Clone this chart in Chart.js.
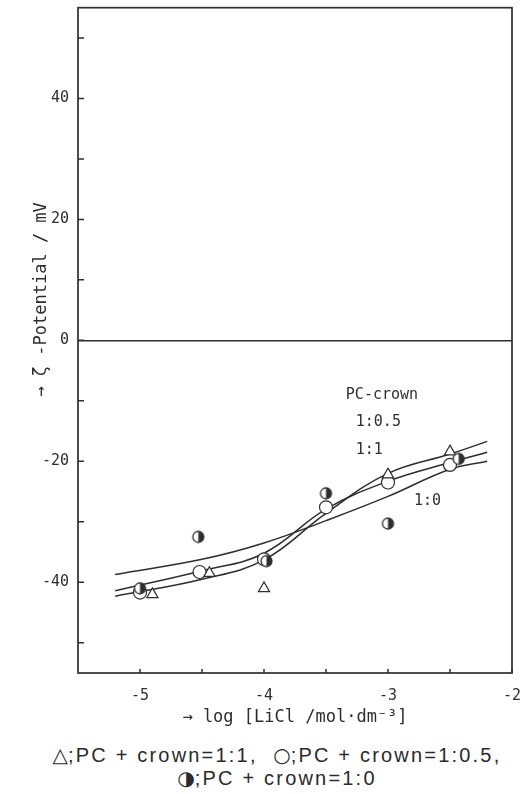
<!DOCTYPE html>
<html>
<head>
<meta charset="utf-8">
<script src="https://cdn.jsdelivr.net/npm/chart.js@4.4.1/dist/chart.umd.min.js"></script>
<style>
  body { margin: 0; background: #fff; }
  #wrap { position: relative; width: 524px; height: 740px; }
  #caption {
    width: 524px;
    box-sizing: border-box;
    padding-left: 30px;
    font-family: "Liberation Sans", Arial, sans-serif;
    font-size: 20px;
    letter-spacing: 2.2px;
    line-height: 23px;
    color: #2a2a2a;
    text-align: center;
    margin-top: 4px;
  }
  #caption .sym { font-family: "DejaVu Sans", sans-serif; letter-spacing: 0; }
</style>
</head>
<body>
<div id="wrap"><canvas id="zeta"></canvas></div>
<div id="caption"><span class="sym">△</span>;PC + crown=1:1,&nbsp;&nbsp;<span class="sym">○</span>;PC + crown=1:0.5,<br><span class="sym">◑</span>;PC + crown=1:0</div>
<script>
// measured points, log[LiCl] vs zeta potential (mV)
const logC_11 = [-4.9, -4.44, -4.0, -3.0, -2.5];
const zeta_11 = [-42.0, -38.5, -41.0, -22.2, -18.4];
const logC_05 = [-5.0, -4.52, -4.0, -3.5, -3.0, -2.5];
const zeta_05 = [-41.7, -38.3, -36.2, -27.6, -23.5, -20.6];
const logC_10 = [-5.0, -4.53, -3.98, -3.5, -3.0, -2.43];
const zeta_10 = [-41.0, -32.5, -36.5, -25.3, -30.3, -19.6];

// hand drawn fit curves
const fitX_11 = [-5.2, -4.5, -4.0, -3.5, -3.0, -2.5, -2.2];
const fitY_11 = [-42.3, -39.5, -36.3, -28.6, -22.0, -18.8, -16.7];
const fitX_05 = [-5.2, -4.5, -4.0, -3.5, -3.0, -2.5, -2.2];
const fitY_05 = [-41.4, -38.1, -35.2, -27.9, -23.3, -20.2, -18.5];
const fitX_10 = [-5.2, -4.5, -4.0, -3.5, -3.0, -2.5, -2.2];
const fitY_10 = [-38.7, -36.2, -33.5, -29.8, -25.8, -21.3, -20.0];

// axis ticks
const xTicks = [-5, -4.5, -4, -3.5, -3, -2.5, -2];
const xLabelled = [-5, -4, -3, -2];
const yTicks = [-50, -40, -30, -20, -10, 0, 10, 20, 30, 40, 50];
const yLabelled = [-40, -20, 0, 20, 40];

const ink = '#2e2e2e';
const mono = '"DejaVu Sans Mono", "Liberation Mono", monospace';

const pts = (xs, ys) => xs.map((x, i) => ({ x: x, y: ys[i] }));

// right half filled circle marker
function halfDisk(r) {
    const c = document.createElement('canvas');
    const s = Math.ceil(r * 2 + 4);
    c.width = c.height = s;
    const g = c.getContext('2d');
    const m = s / 2;
    g.beginPath(); g.arc(m, m, r, 0, Math.PI * 2); g.fillStyle = '#fff'; g.fill();
    g.beginPath(); g.moveTo(m, m - r); g.arc(m, m, r, -Math.PI / 2, Math.PI / 2); g.closePath();
    g.fillStyle = ink; g.fill();
    g.beginPath(); g.arc(m, m, r, 0, Math.PI * 2); g.lineWidth = 1.3; g.strokeStyle = ink; g.stroke();
    return c;
}

// labels written inside the plot (data coordinates)
const notes = [
    { text: 'PC-crown', x: -3.34, y: -9.0 },
    { text: '1:0.5', x: -3.26, y: -13.6 },
    { text: '1:1', x: -3.26, y: -18.1 },
    { text: '1:0', x: -2.79, y: -26.6 }
];

const frame = {
    id: 'frame',
    afterDraw(chart) {
        const { ctx, chartArea: a, scales: { x, y } } = chart;
        ctx.save();
        ctx.strokeStyle = ink;
        ctx.lineWidth = 1.7;
        ctx.strokeRect(a.left, a.top, a.right - a.left, a.bottom - a.top);
        ctx.lineWidth = 1.5;
        ctx.beginPath();
        yTicks.forEach(v => {
            const py = y.getPixelForValue(v);
            ctx.moveTo(a.left, py); ctx.lineTo(a.left + 6, py);
        });
        xTicks.forEach(v => {
            const px = x.getPixelForValue(v);
            ctx.moveTo(px, a.bottom); ctx.lineTo(px, a.bottom - 4);
        });
        ctx.stroke();
        ctx.font = '15px ' + mono;
        ctx.fillStyle = ink;
        ctx.textAlign = 'left';
        ctx.textBaseline = 'middle';
        notes.forEach(n => ctx.fillText(n.text, x.getPixelForValue(n.x), y.getPixelForValue(n.y)));
        ctx.restore();
    }
};

const fitLine = (xs, ys) => ({
    data: pts(xs, ys),
    showLine: true,
    borderColor: ink,
    borderWidth: 1.5,
    pointRadius: 0,
    tension: 0.4,
    order: 2
});

new Chart(document.getElementById('zeta'), {
    type: 'scatter',
    data: {
        datasets: [
            {
                label: 'PC + crown=1:1',
                data: pts(logC_11, zeta_11),
                pointStyle: 'triangle',
                pointRadius: 6.5,
                backgroundColor: '#fff',
                borderColor: ink,
                borderWidth: 1.2,
                order: 1
            },
            {
                label: 'PC + crown=1:0.5',
                data: pts(logC_05, zeta_05),
                pointStyle: 'circle',
                pointRadius: 6.5,
                backgroundColor: '#fff',
                borderColor: ink,
                borderWidth: 1.2,
                order: 1
            },
            {
                label: 'PC + crown=1:0',
                data: pts(logC_10, zeta_10),
                pointStyle: halfDisk(5.5),
                pointRadius: 6,
                order: 0
            },
            fitLine(fitX_11, fitY_11),
            fitLine(fitX_05, fitY_05),
            fitLine(fitX_10, fitY_10)
        ]
    },
    options: {
        responsive: true,
        maintainAspectRatio: false,
        animation: false,
        layout: { padding: { top: 6, right: 12, left: 0, bottom: 0 } },
        plugins: {
            legend: { display: false },
            tooltip: { enabled: false }
        },
        scales: {
            x: {
                type: 'linear',
                min: -5.5,
                max: -2,
                afterBuildTicks: s => { s.ticks = xTicks.map(v => ({ value: v })); },
                afterFit: s => { s.height = 67; s.paddingLeft = 0; s.paddingRight = 0; },
                border: { display: false },
                grid: { display: false, drawTicks: false },
                ticks: {
                    autoSkip: false,
                    maxRotation: 0,
                    padding: 14,
                    color: ink,
                    font: { family: mono, size: 15 },
                    callback: v => xLabelled.includes(v) ? String(v) : ''
                },
                title: {
                    display: true,
                    text: '→ log [LiCl /mol·dm⁻³]',
                    color: ink,
                    font: { family: mono, size: 17 },
                    padding: { top: 12, bottom: 12 }
                }
            },
            y: {
                min: -55,
                max: 55,
                afterBuildTicks: s => { s.ticks = yTicks.map(v => ({ value: v })); },
                afterFit: s => { s.width = 78; s.paddingTop = 0; s.paddingBottom = 0; },
                border: { display: false },
                grid: {
                    drawTicks: false,
                    lineWidth: 1.5,
                    color: c => c.tick && c.tick.value === 0 ? ink : 'rgba(0,0,0,0)'
                },
                ticks: {
                    autoSkip: false,
                    padding: 9,
                    color: ink,
                    font: { family: mono, size: 15 },
                    callback: v => yLabelled.includes(v) ? String(v) : ''
                },
                title: {
                    display: true,
                    text: '        → ζ -Potential / mV',
                    color: ink,
                    font: { family: mono, size: 17 },
                    padding: { top: 31, bottom: 0 }
                }
            }
        }
    },
    plugins: [frame]
});
</script>
</body>
</html>
